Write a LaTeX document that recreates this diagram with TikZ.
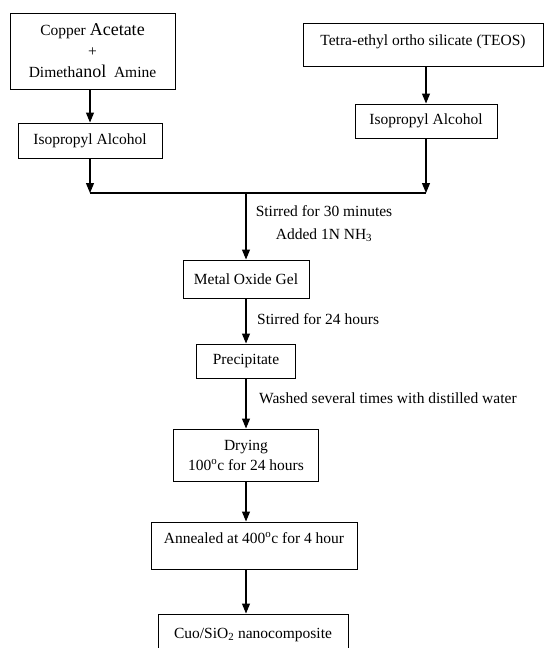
\documentclass[tikz,border=0pt]{standalone}
\usepackage{fontspec}
\setmainfont{Liberation Serif}
\usetikzlibrary{arrows.meta,positioning,calc}
\newcommand{\bigword}[1]{{\fontsize{18}{21}\selectfont #1}}
\tikzset{
  box/.style={draw, line width=1pt, inner sep=0pt, align=center},
  flow/.style={-{Triangle[width=8pt,length=10pt]}, line width=1.1pt},
  note/.style={inner sep=0pt, align=center},
}

\begin{document}
\begin{tikzpicture}[x=1pt, y=-1pt, font=\fontsize{15.5}{21}\selectfont]
    \useasboundingbox (0,0) rectangle (545,648);
    % two precursor branches
    \node[box, minimum width=165pt, minimum height=76pt] (cuac) at (92.5,51)
        {Copper \bigword{Acetate}\\+\\Dimeth\bigword{anol}\ \ Amine};
    \node[box, minimum width=144pt, minimum height=35pt] (ipa1) at (90,140.5) {Isopropyl Alcohol};
    \node[box, minimum width=240pt, minimum height=43pt, text height=22pt, text depth=21pt] (teos) at (423,44.5)
        {Tetra-ethyl ortho silicate (TEOS)};
    \node[box, minimum width=142pt, minimum height=34pt] (ipa2) at (426,121) {Isopropyl Alcohol};
    \draw[flow] (cuac.south -| ipa1.north) -- (ipa1.north);
    \draw[flow] (teos.south -| ipa2.north) -- (ipa2.north);
    % mixing
    \coordinate (join) at (246,193);
    \draw[flow] (ipa1.south) -- (ipa1.south |- join);
    \draw[flow] (ipa2.south) -- (ipa2.south |- join);
    \draw[line width=1.1pt] (ipa1.south |- join) -- (ipa2.south |- join);
    \node[box, minimum width=126pt, minimum height=38pt] (gel) at (246,279) {Metal Oxide Gel};
    \draw[flow] (join) -- (gel.north);
    \node[note, font=\fontsize{15.5}{23}\selectfont] (mix) at (324,223.5)
        {Stirred for 30 minutes\\Added 1N NH\textsubscript{3}};
    \node[box, minimum width=99pt, minimum height=34pt] (prec) at (246,361) {Precipitate};
    \draw[flow] (gel) -- (prec);
    \node[note, anchor=west] (stir) at (257,319) {Stirred for 24 hours};
    % treatment
    \node[box, minimum width=145pt, minimum height=52pt, font=\fontsize{15.5}{20}\selectfont] (dry) at (246,455)
        {Drying\\100\textsuperscript{o}c for 24 hours};
    \draw[flow] (prec) -- (dry);
    \node[note, anchor=west] (wash) at (259,398) {Washed several times with distilled water};
    \node[box, minimum width=206pt, minimum height=47pt, text height=21pt, text depth=26pt] (anneal) at (254,545.5)
        {Annealed at 400\textsuperscript{o}c for 4 hour};
    \draw[flow] (dry.south) -- (dry.south |- anneal.north);
    \node[box, minimum width=190pt, minimum height=46pt, text height=24pt, text depth=22pt] (final) at (253,637)
        {Cuo/SiO\textsubscript{2} nanocomposite};
    \draw[flow] (anneal.south -| dry.south) -- (dry.south |- final.north);
\end{tikzpicture}
\end{document}
